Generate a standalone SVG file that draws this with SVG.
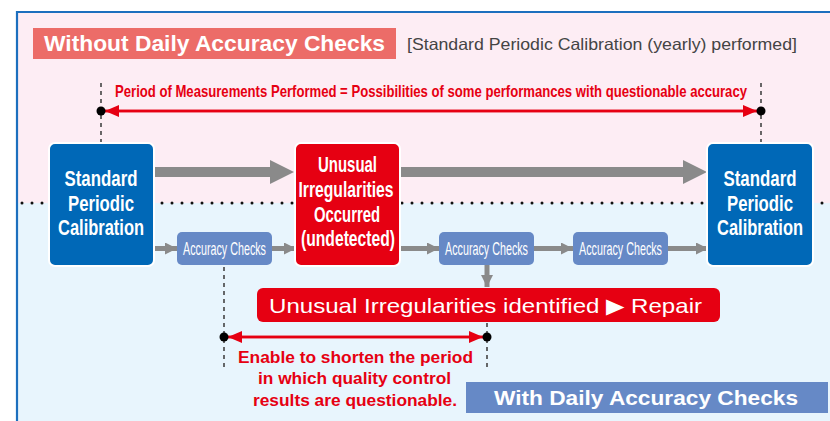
<svg xmlns="http://www.w3.org/2000/svg" width="830" height="421" viewBox="0 0 830 421">
<defs>
<style>
.sans{font-family:"Liberation Sans",Arial,sans-serif}
.node-t{font-family:"Liberation Sans",Arial,sans-serif;font-weight:bold;fill:#fff;font-size:19px;text-anchor:middle}
.ac-t{font-family:"Liberation Sans",Arial,sans-serif;fill:#fff;font-size:14px;text-anchor:middle}
.redt{font-family:"Liberation Sans",Arial,sans-serif;font-weight:bold;fill:#e60012}
.gline{stroke:#8a8a8a;fill:none}
.dash{stroke:#444;stroke-width:1.6;stroke-dasharray:4 4;fill:none}
</style>
<marker id="gh" viewBox="0 0 12 12" refX="12" refY="6" markerWidth="12" markerHeight="12" markerUnits="userSpaceOnUse" orient="auto"><path d="M0,0 L12,6 L0,12 Z" fill="#8a8a8a"/></marker>
<marker id="rh" viewBox="0 0 14 12" refX="14" refY="6" markerWidth="14" markerHeight="12" markerUnits="userSpaceOnUse" orient="auto"><path d="M0,0 L14,6 L0,12 Z" fill="#e60012"/></marker>
</defs>
<rect x="0" y="0" width="830" height="421" fill="#fff"/>
<rect x="17" y="12" width="813" height="191" fill="#fdedf4"/>
<rect x="17" y="203" width="813" height="218" fill="#e8f5fd"/>
<path d="M17,421 V12 H830" fill="none" stroke="#1c6fbe" stroke-width="2.2"/>
<line x1="22" y1="203" x2="830" y2="203" stroke="#111" stroke-width="3" stroke-linecap="round" stroke-dasharray="0 10"/>

<g id="title-without">
<rect x="33" y="28" width="363" height="31" fill="#ec6c68"/>
<text x="44" y="51" class="sans" font-weight="bold" font-size="22.5" fill="#fff" textLength="341" lengthAdjust="spacingAndGlyphs">Without Daily Accuracy Checks</text>
<text x="407" y="50" class="sans" font-size="16.5" fill="#444" textLength="390" lengthAdjust="spacingAndGlyphs">[Standard Periodic Calibration (yearly) performed]</text>
</g>

<g id="connectors">
<line class="dash" x1="101" y1="83" x2="101" y2="143"/>
<line class="dash" x1="761" y1="83" x2="761" y2="143"/>
<line class="dash" x1="224" y1="267" x2="224" y2="371"/>
<line class="dash" x1="487" y1="323" x2="487" y2="371"/>
<line x1="105" y1="111" x2="757" y2="111" stroke="#e60012" stroke-width="2.5" marker-end="url(#rh)"/>
<line x1="757" y1="111" x2="105" y2="111" stroke="#e60012" stroke-width="2.5" marker-end="url(#rh)"/>
<circle cx="101" cy="111" r="4.5" fill="#000"/>
<circle cx="761" cy="111" r="4.5" fill="#000"/>
<line x1="228" y1="337" x2="483" y2="337" stroke="#e60012" stroke-width="2.5" marker-end="url(#rh)"/>
<line x1="483" y1="337" x2="228" y2="337" stroke="#e60012" stroke-width="2.5" marker-end="url(#rh)"/>
<circle cx="224" cy="337" r="4.5" fill="#000"/>
<circle cx="487" cy="337" r="4.5" fill="#000"/>
<path d="M155,167 H270 V160 L294,172 L270,184 V177 H155 Z" fill="#8a8a8a"/>
<path d="M400,167 H683 V160 L707,172 L683,184 V177 H400 Z" fill="#8a8a8a"/>
<line class="gline" x1="154" y1="248.5" x2="177" y2="248.5" stroke-width="5" marker-end="url(#gh)"/>
<line class="gline" x1="272" y1="248.5" x2="296" y2="248.5" stroke-width="5" marker-end="url(#gh)"/>
<line class="gline" x1="399" y1="248.5" x2="439" y2="248.5" stroke-width="5" marker-end="url(#gh)"/>
<line class="gline" x1="534" y1="248.5" x2="573" y2="248.5" stroke-width="5" marker-end="url(#gh)"/>
<line class="gline" x1="668" y1="248.5" x2="708" y2="248.5" stroke-width="5" marker-end="url(#gh)"/>
<line class="gline" x1="487" y1="265" x2="487" y2="287" stroke-width="5" marker-end="url(#gh)"/>
</g>

<text transform="translate(115,97) scale(1,1.28)" x="0" y="0" class="redt" font-size="13" textLength="632" lengthAdjust="spacingAndGlyphs">Period of Measurements Performed = Possibilities of some performances with questionable accuracy</text>

<g id="calib-left">
<rect x="49" y="143" width="105" height="123" rx="6" fill="#0068b7" stroke="#fff" stroke-width="2"/>
<text class="node-t" transform="translate(101,186) scale(1,1.2)" textLength="73" lengthAdjust="spacingAndGlyphs">Standard</text>
<text class="node-t" transform="translate(101,210.5) scale(1,1.2)" textLength="66" lengthAdjust="spacingAndGlyphs">Periodic</text>
<text class="node-t" transform="translate(101,235) scale(1,1.2)" textLength="86" lengthAdjust="spacingAndGlyphs">Calibration</text>
</g>

<g id="irregular">
<rect x="295" y="143" width="105" height="123" rx="6" fill="#e60012" stroke="#fff" stroke-width="2"/>
<text class="node-t" transform="translate(347.5,172) scale(1,1.2)" textLength="59" lengthAdjust="spacingAndGlyphs">Unusual</text>
<text class="node-t" transform="translate(346,197) scale(1,1.2)" textLength="95" lengthAdjust="spacingAndGlyphs">Irregularities</text>
<text class="node-t" transform="translate(347,222) scale(1,1.2)" textLength="66" lengthAdjust="spacingAndGlyphs">Occurred</text>
<text class="node-t" transform="translate(348,246) scale(1,1.2)" textLength="94" lengthAdjust="spacingAndGlyphs">(undetected)</text>
</g>

<g id="calib-right">
<rect x="707" y="143" width="106" height="123" rx="6" fill="#0068b7" stroke="#fff" stroke-width="2"/>
<text class="node-t" transform="translate(760,186) scale(1,1.2)" textLength="73" lengthAdjust="spacingAndGlyphs">Standard</text>
<text class="node-t" transform="translate(760,210.5) scale(1,1.2)" textLength="66" lengthAdjust="spacingAndGlyphs">Periodic</text>
<text class="node-t" transform="translate(760,235) scale(1,1.2)" textLength="86" lengthAdjust="spacingAndGlyphs">Calibration</text>
</g>

<g id="check1">
<rect x="177" y="232" width="95" height="33" rx="5" fill="#6689c6"/>
<text class="ac-t" transform="translate(224.5,255) scale(1,1.3)" textLength="83" lengthAdjust="spacingAndGlyphs">Accuracy Checks</text>
</g>
<g id="check2">
<rect x="439" y="232" width="95" height="33" rx="5" fill="#6689c6"/>
<text class="ac-t" transform="translate(486.5,255) scale(1,1.3)" textLength="83" lengthAdjust="spacingAndGlyphs">Accuracy Checks</text>
</g>
<g id="check3">
<rect x="573" y="232" width="95" height="33" rx="5" fill="#6689c6"/>
<text class="ac-t" transform="translate(620.5,255) scale(1,1.3)" textLength="83" lengthAdjust="spacingAndGlyphs">Accuracy Checks</text>
</g>

<g id="repair">
<rect x="257" y="288" width="463" height="34" rx="6" fill="#e60012"/>
<text x="269" y="313" class="sans" font-size="21" fill="#fff" textLength="433" lengthAdjust="spacingAndGlyphs">Unusual Irregularities identified ▶ Repair</text>
</g>

<g id="shorten-note">
<text class="redt" font-size="16.5" x="238" y="363" textLength="235" lengthAdjust="spacingAndGlyphs">Enable to shorten the period</text>
<text class="redt" font-size="16.5" x="258" y="384" textLength="193" lengthAdjust="spacingAndGlyphs">in which quality control</text>
<text class="redt" font-size="16.5" x="253" y="406" textLength="204" lengthAdjust="spacingAndGlyphs">results are questionable.</text>
</g>

<g id="title-with">
<rect x="466" y="382" width="362" height="31" fill="#6689c6"/>
<text x="494" y="404.5" class="sans" font-weight="bold" font-size="21" fill="#fff" textLength="304" lengthAdjust="spacingAndGlyphs">With Daily Accuracy Checks</text>
</g>
</svg>
